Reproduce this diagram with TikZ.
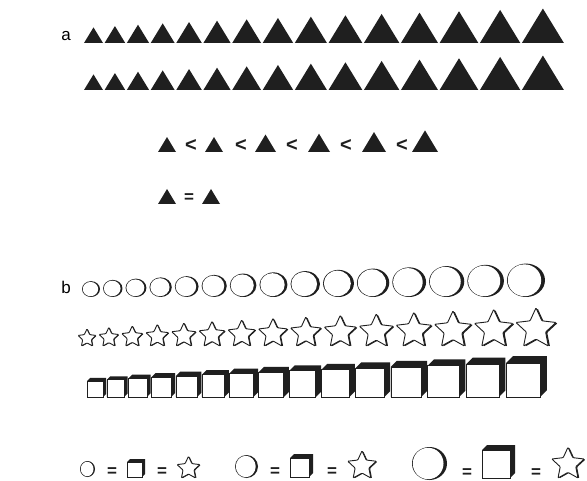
\documentclass[tikz,border=0pt]{standalone}
\usepackage{fontspec}
\setmainfont{Liberation Sans}
\newcommand\shadecirc[4]{% left x, bottom y, width, height
  \pgfmathsetmacro\cw{#3}\pgfmathsetmacro\ch{#4}%
  \pgfmathsetmacro\ccx{#1+\cw/2}\pgfmathsetmacro\ccy{#2-\ch/2}%
  \pgfmathsetmacro\ct{max(1.2,0.1*\cw)}%
  \pgfmathsetmacro\crx{(\cw-0.8-\ct)/2}\pgfmathsetmacro\cry{\ch/2-0.8}%
  \fill[ink] (\ccx,\ccy) ellipse [x radius=\cw/2 pt, y radius=\ch/2 pt];
  \fill[white] (\ccx+0.4-\ct/2,\ccy) ellipse [x radius=\crx pt, y radius=\cry pt];
}
\newcommand\shadestar[3]{% centre x, bottom y, outer radius
  \pgfmathsetmacro\sR{#3}\pgfmathsetmacro\sr{0.48*\sR}%
  \pgfmathsetmacro\scy{#2-0.809*\sR}%
  \pgfmathsetmacro\soff{max(0.8,0.08*\sR)}%
  \fill[ink, rounded corners=0.8pt, shift={(#1+\soff,\scy+0.3*\soff)}]
    (-90:\sR) -- (-54:\sr) -- (-18:\sR) -- (18:\sr) -- (54:\sR) -- (90:\sr)
    -- (126:\sR) -- (162:\sr) -- (198:\sR) -- (234:\sr) -- cycle;
  \filldraw[face, line width=0.9pt, rounded corners=0.8pt, shift={(#1,\scy)}]
    (-90:\sR) -- (-54:\sr) -- (-18:\sR) -- (18:\sr) -- (54:\sR) -- (90:\sr)
    -- (126:\sR) -- (162:\sr) -- (198:\sR) -- (234:\sr) -- cycle;
}
\newcommand\shadecube[4]{% left x, bottom y, front size, depth
  \pgfmathsetmacro\qs{#3}\pgfmathsetmacro\qd{#4}%
  \fill[ink] (#1,#2) -- ++(0,-\qs) -- ++(\qd,-\qd) -- ++(\qs,0) -- ++(0,\qs) -- ++(-\qd,\qd) -- cycle;
  \filldraw[face] (#1,#2) rectangle ++(\qs,-\qs);
}
\begin{document}
\begin{tikzpicture}[x=1pt,y=-1pt,
  tri/.style={fill=black!88},
  ink/.style={fill=black!88},
  face/.style={fill=white, draw=black!88, line width=0.7pt},
  panel/.style={font=\fontsize{17}{17}\selectfont, inner sep=0, anchor=base},
  rel/.style={font=\bfseries\fontsize{20}{20}\selectfont, inner sep=0, anchor=base, text=black!88},
  releq/.style={font=\bfseries\fontsize{17}{17}\selectfont, inner sep=0, anchor=base, text=black!88}]
\useasboundingbox[fill=white] (0,0) rectangle (587,481);

% ---------- panel a ----------
\node[panel] (la) at (66,41) {a};
\foreach \i in {0,...,14}{
  \pgfmathsetmacro\w{19+23*\i/14}
  \pgfmathsetmacro\xl{84+\i*20.6+23*\i*(\i-1)/28}
  \pgfmathsetmacro\h{0.82*\w}
  \fill[tri] (\xl,43) -- ++(\w,0) -- ++(-\w/2,-\h) -- cycle;
  \fill[tri] (\xl,90) -- ++(\w,0) -- ++(-\w/2,-\h) -- cycle;
}
% ordered row
\foreach \x/\w in {158/18, 205/18, 255/21, 308/22, 362/24, 412/26}{
  \fill[tri] (\x,152) -- ++(\w,0) -- ++(-\w/2,-0.83*\w) -- cycle;
}
\node[rel] (lt1) at (191,152) {<};
\node[rel] (lt2) at (241,152) {<};
\node[rel] (lt3) at (292,152) {<};
\node[rel] (lt4) at (346,152) {<};
\node[rel] (lt5) at (402,152) {<};
% equality row
\fill[tri] (158,204) -- ++(18,0) -- ++(-9,-15) -- cycle;
\fill[tri] (202,204) -- ++(18,0) -- ++(-9,-15) -- cycle;
\node[releq] (eqa) at (189,203) {=};

% ---------- panel b ----------
\node[panel] (lb) at (66,294) {b};
% circles
\foreach \i in {0,...,14}{
  \pgfmathsetmacro\w{18+20*\i/14}
  \pgfmathsetmacro\xl{82+\i*21.07+20*\i*(\i-1)/28}
  \shadecirc{\xl}{297}{\w}{0.88*\w}
}
% stars
\foreach \i in {0,...,14}{
  \pgfmathsetmacro\w{18+22*\i/14}
  \pgfmathsetmacro\xl{78+\i*21.07+22*\i*(\i-1)/28}
  \pgfmathsetmacro\cx{\xl+\w/2}
  \pgfmathsetmacro\R{\w/1.902}
  \shadestar{\cx}{346}{\R}
}
% cubes
\foreach \i in {0,...,14}{
  \pgfmathsetmacro\s{16+18*\i/14}
  \pgfmathsetmacro\xl{87+\i*19.91+21.6*\i*(\i-1)/28}
  \shadecube{\xl}{397}{\s}{0.2*\s}
}
% equivalence rows
\shadecirc{80}{477}{15}{16}
\node[releq] (e1) at (112,476) {=};
\shadecube{127}{477}{15}{3}
\node[releq] (e2) at (162,476) {=};
\shadestar{188.5}{478}{12}

\shadecirc{235}{478}{23}{23}
\node[releq] (e3) at (275,476) {=};
\shadecube{290}{477}{19}{4}
\node[releq] (e4) at (332,476) {=};
\shadestar{362}{478}{15}

\shadecirc{412}{480}{35}{33}
\node[releq] (e5) at (467,477) {=};
\shadecube{482}{478}{28}{5}
\node[releq] (e6) at (536,477) {=};
\shadestar{568}{478}{17}
\end{tikzpicture}
\end{document}
